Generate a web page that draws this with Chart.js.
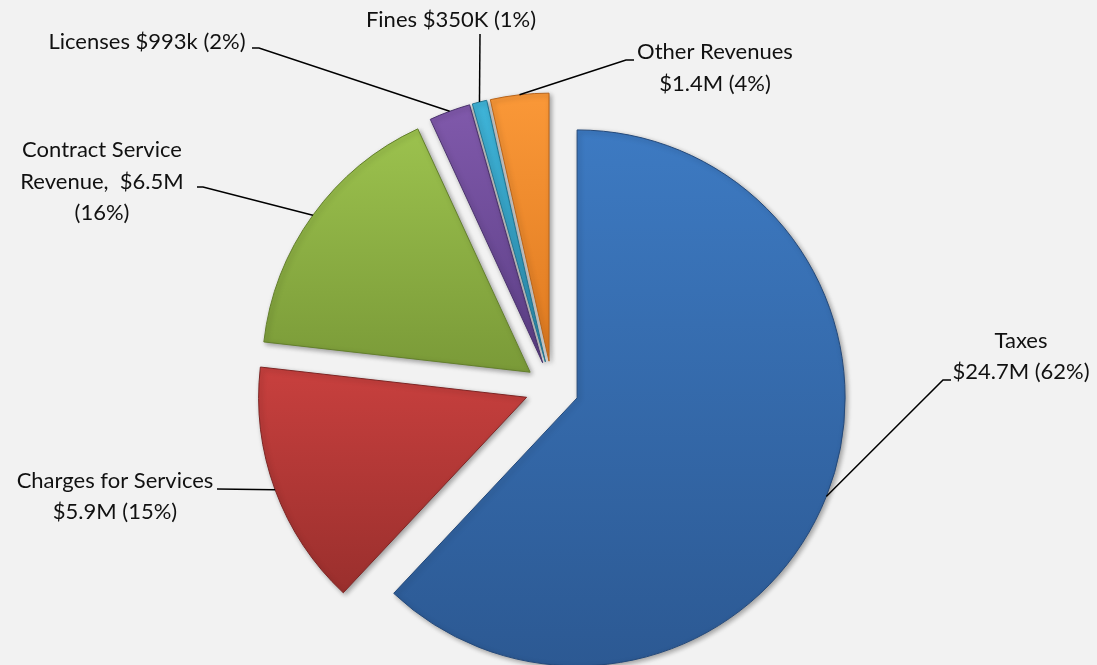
<!DOCTYPE html>
<html lang="en">
<head>
    <meta charset="UTF-8">
    <title>Revenue Sources</title>
    <script src="https://cdn.jsdelivr.net/npm/chart.js"></script>
    <style>
        body { margin: 0; background: #f2f2f2; }
        #wrap { width: 1097px; height: 665px; }
    </style>
</head>
<body>
    <div id="wrap"><canvas id="myChart" width="1097" height="665"></canvas></div>

    <script>
        // data ($M)
        const categories = ['Taxes', 'Charges for Services', 'Contract Service Revenue', 'Licenses', 'Fines', 'Other Revenues'];
        const revenues = [24.7, 5.9, 6.5, 0.993, 0.35, 1.4];
        const labelLines = [
            ['Taxes', '$24.7M (62%)'],
            ['Charges for Services', '$5.9M (15%)'],
            ['Contract Service', 'Revenue,  $6.5M', '(16%)'],
            ['Licenses $993k (2%)'],
            ['Fines $350K (1%)'],
            ['Other Revenues', '$1.4M (4%)']
        ];

        // look
        const topColors = ['#3d7ac2', '#c8403e', '#9cc24e', '#8059ab', '#3fb4d8', '#fa9838'];
        const bottomColors = ['#2c5993', '#9a2f2d', '#7a9a38', '#5c3f86', '#2b8db0', '#df7a20'];
        const edgeColors = ['#24497a', '#7d2524', '#637f2c', '#4a326d', '#23748f', '#b8641a'];
        const explode = 27;

        // label placement: line centres and leader start points
        const labelPos = [
            { x: 1021, y: [341, 372], leader: [[951, 380], [943, 380]] },
            { x: 115, y: [481, 512], leader: [[217, 489]] },
            { x: 102, y: [150, 182, 213], leader: [[197, 187], [203, 187]] },
            { x: 147, y: [42], leader: [[252, 48], [259, 48]] },
            { x: 451, y: [20], leader: [[480, 34]] },
            { x: 715, y: [52, 84], leader: [[634, 60], [626, 60]] }
        ];

        const explodePlugin = {
            id: 'explode',
            afterDatasetUpdate(chart, args) {
                args.meta.data.forEach(function (arc) {
                    const mid = (arc.startAngle + arc.endAngle) / 2;
                    arc.x += Math.cos(mid) * explode;
                    arc.y += Math.sin(mid) * explode;
                });
            },
            beforeDatasetsDraw(chart) {
                const ctx = chart.ctx;
                chart.getDatasetMeta(0).data.forEach(function (arc, i) {
                    const r = arc.outerRadius;
                    const ys = [arc.y, arc.y + r * Math.sin(arc.startAngle), arc.y + r * Math.sin(arc.endAngle)];
                    [-Math.PI / 2, Math.PI / 2, Math.PI * 1.5].forEach(function (a) {
                        if (a >= arc.startAngle && a <= arc.endAngle) ys.push(arc.y + r * Math.sin(a));
                    });
                    const g = ctx.createLinearGradient(0, Math.min(...ys), 0, Math.max(...ys));
                    g.addColorStop(0, topColors[i]);
                    g.addColorStop(1, bottomColors[i]);
                    arc.options.backgroundColor = g;
                });
                ctx.save();
                ctx.shadowColor = 'rgba(0,0,0,0.35)';
                ctx.shadowBlur = 5;
                ctx.shadowOffsetX = 2;
                ctx.shadowOffsetY = 2;
            },
            afterDatasetsDraw(chart) {
                chart.ctx.restore();
            },
            afterDraw(chart) {
                const ctx = chart.ctx;
                ctx.save();
                chart.getDatasetMeta(0).data.forEach(function (arc, i) {
                    const mid = (arc.startAngle + arc.endAngle) / 2;
                    const ex = arc.x + arc.outerRadius * Math.cos(mid);
                    const ey = arc.y + arc.outerRadius * Math.sin(mid);
                    const pos = labelPos[i];

                    ctx.strokeStyle = '#000';
                    ctx.lineWidth = 1.5;
                    ctx.beginPath();
                    ctx.moveTo(pos.leader[0][0], pos.leader[0][1]);
                    for (let k = 1; k < pos.leader.length; k++) ctx.lineTo(pos.leader[k][0], pos.leader[k][1]);
                    ctx.lineTo(ex, ey);
                    ctx.stroke();

                    ctx.fillStyle = '#111';
                    ctx.font = '22px Lato';
                    ctx.textAlign = 'center';
                    ctx.textBaseline = 'middle';
                    labelLines[i].forEach(function (line, k) {
                        ctx.fillText(line, pos.x, pos.y[k]);
                    });
                });
                ctx.restore();
            }
        };

        const ctx = document.getElementById('myChart').getContext('2d');
        new Chart(ctx, {
            type: 'pie',
            data: {
                labels: categories,
                datasets: [{
                    data: revenues,
                    backgroundColor: topColors,
                    borderColor: edgeColors,
                    borderWidth: 1
                }]
            },
            options: {
                responsive: false,
                animation: false,
                radius: 268,
                layout: { padding: { left: 7, right: 0, top: 111, bottom: 0 } },
                plugins: {
                    legend: { display: false },
                    tooltip: { enabled: false }
                }
            },
            plugins: [explodePlugin]
        });
    </script>
</body>
</html>
